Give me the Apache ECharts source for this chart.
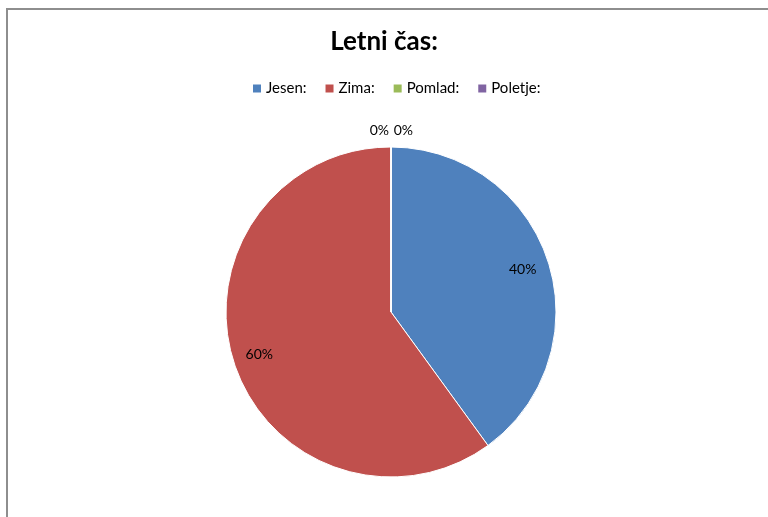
<!DOCTYPE html>
<html>
<head>
<meta charset="utf-8">
<script src="https://cdn.jsdelivr.net/npm/echarts@6/dist/echarts.min.js"></script>
<style>
html,body{margin:0;padding:0;background:#fff;overflow:hidden;}
#frame{position:absolute;left:6px;top:8px;width:800px;height:600px;border:2px solid #8e8e8e;box-sizing:border-box;}
#chart{position:absolute;left:0;top:0;width:768px;height:517px;}
</style>
</head>
<body>
<div id="frame"></div>
<div id="chart"></div>
<script>
const titleText = 'Letni čas:';
const categories = ['Jesen:', 'Zima:', 'Pomlad:', 'Poletje:'];
const values = [40, 60, 0, 0];
const colors = ['#4F81BD', '#C0504D', '#9BBB59', '#8064A2'];

const FONT = 'Lato, "Open Sans", sans-serif';
const chart = echarts.init(document.getElementById('chart'));
const total = values.reduce((a, b) => a + b, 0);
const pct = v => Math.round(v / total * 100) + '%';

const mainData = categories.map((c, i) => ({ name: c, value: values[i], itemStyle: { color: colors[i] } }));
const labelData = categories.map((c, i) => ({
  name: c, value: values[i],
  label: values[i] === 0 ? { position: 'outside' } : { position: 'inside' },
  labelLine: { show: false, length: 8, length2: 0 }
}));

chart.setOption({
  animation: false,
  title: {
    text: titleText, left: 'center', top: 24,
    textStyle: { fontFamily: FONT, fontSize: 26, fontWeight: 'bold', color: '#000' }
  },
  legend: {
    data: categories, top: 76, left: 246,
    itemWidth: 10, itemHeight: 10, itemGap: 17, icon: 'rect',
    textStyle: { fontFamily: FONT, fontSize: 15, color: '#000', padding: [0, 0, 0, -1] }
  },
  color: colors,
  series: [
    {
      type: 'pie', center: [391, 312], radius: [0, 165], startAngle: 90, clockwise: true,
      data: mainData, label: { show: false }, labelLine: { show: false },
      itemStyle: { borderColor: '#fff', borderWidth: 1 }, silent: true
    },
    {
      type: 'pie', center: [391, 312], radius: [106, 165], startAngle: 90, clockwise: true,
      data: labelData, silent: true, avoidLabelOverlap: false,
      itemStyle: { color: 'rgba(0,0,0,0)', borderWidth: 0 },
      label: {
        show: true, formatter: p => pct(p.value),
        fontFamily: FONT, fontSize: 14, color: '#000'
      },
      labelLayout: p => {
        if (values[p.dataIndex] === 0) {
          const k = categories.slice(0, p.dataIndex).filter((c, j) => values[j] === 0).length;
          return { dx: 3 + k * 24, dy: -9 };
        }
        return {};
      }
    }
  ]
});
</script>
</body>
</html>
